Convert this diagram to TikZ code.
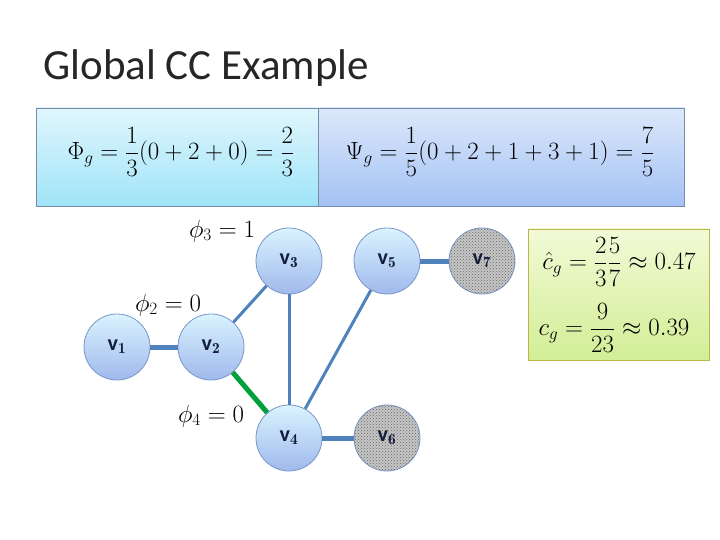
\documentclass[tikz,border=0pt]{standalone}
\usepackage{amsmath}
\usepackage{fontspec}
\setsansfont{Carlito}
\usetikzlibrary{patterns,shadings}
\definecolor{edge}{RGB}{79,129,189}
\definecolor{nborder}{RGB}{120,150,200}
\definecolor{ntext}{RGB}{20,30,60}
\definecolor{boxb}{RGB}{120,140,170}
\tikzset{
  vnode/.style={circle,minimum size=66pt,inner sep=0pt,draw=nborder,line width=0.8pt,top color=blue!5!white!90!cyan,bottom color={rgb,255:red,160;green,185;blue,236},font=\sffamily\bfseries\fontsize{22}{22}\selectfont,text=ntext},
  hnode/.style={circle,minimum size=66pt,inner sep=0pt,draw=nborder,line width=0.8pt,fill=gray!45,postaction={pattern=crosshatch dots,pattern color=gray!80!black},font=\sffamily\bfseries\fontsize{22}{22}\selectfont,text=ntext},
  thin/.style={draw=edge,line width=3pt},
  thick/.style={draw=edge,line width=5pt},
  lab/.style={font=\fontsize{27}{27}\selectfont}
}
\begin{document}
\begin{tikzpicture}[x=1pt,y=-1pt]
\useasboundingbox (0,0) rectangle (720,540);
\node[anchor=west,font=\sffamily\fontsize{43}{43}\selectfont,text=black!85] (title) at (40,68) {Global CC Example};
\path[draw=boxb,line width=0.6pt,top color={rgb,255:red,224;green,246;blue,253},bottom color={rgb,255:red,160;green,228;blue,248}] (36,108) rectangle (318,206);
\path[draw=boxb,line width=0.6pt,top color={rgb,255:red,220;green,232;blue,251},bottom color={rgb,255:red,164;green,194;blue,244}] (318,108) rectangle (684,206);
\node[lab] (phig) at (181,152) {$\Phi_g=\dfrac{1}{3}(0+2+0)=\dfrac{2}{3}$};
\node[lab] (psig) at (500,152) {$\Psi_g=\dfrac{1}{5}(0+2+1+3+1)=\dfrac{7}{5}$};
\path[draw=olive!60,line width=0.6pt,top color={rgb,255:red,242;green,250;blue,214},bottom color={rgb,255:red,210;green,238;blue,150}] (528,229) rectangle (709,360);
\node[lab] (chat) at (619,262) {$\hat{c}_g=\dfrac{2}{3}\dfrac{5}{7}\approx 0.47$};
\node[lab] (cg) at (614,328) {$c_g=\dfrac{9}{23}\approx 0.39$};
\node[vnode] (v1) at (117,347) {v$_\mathbf{1}$};
\node[vnode] (v2) at (211,347) {v$_\mathbf{2}$};
\node[vnode] (v3) at (289,261) {v$_\mathbf{3}$};
\node[vnode] (v5) at (387,261) {v$_\mathbf{5}$};
\node[hnode] (v7) at (482,261) {v$_\mathbf{7}$};
\node[vnode] (v4) at (289,438) {v$_\mathbf{4}$};
\node[hnode] (v6) at (387,438) {v$_\mathbf{6}$};
\draw[thin] (v2) -- (v3);
\draw[thin] (v3) -- (v4);
\draw[thin] (v4) -- (v5);
\draw[thick] (v1) -- (v2);
\draw[thick] (v5) -- (v7);
\draw[thick] (v4) -- (v6);
\draw[line width=5pt,draw={rgb,255:red,0;green,160;blue,60}] (v2) -- (v4);
\node[lab] (l3) at (222,231) {$\phi_3=1$};
\node[lab] (l2) at (168,305) {$\phi_2=0$};
\node[lab] (l4) at (211,416) {$\phi_4=0$};
\end{tikzpicture}
\end{document}
